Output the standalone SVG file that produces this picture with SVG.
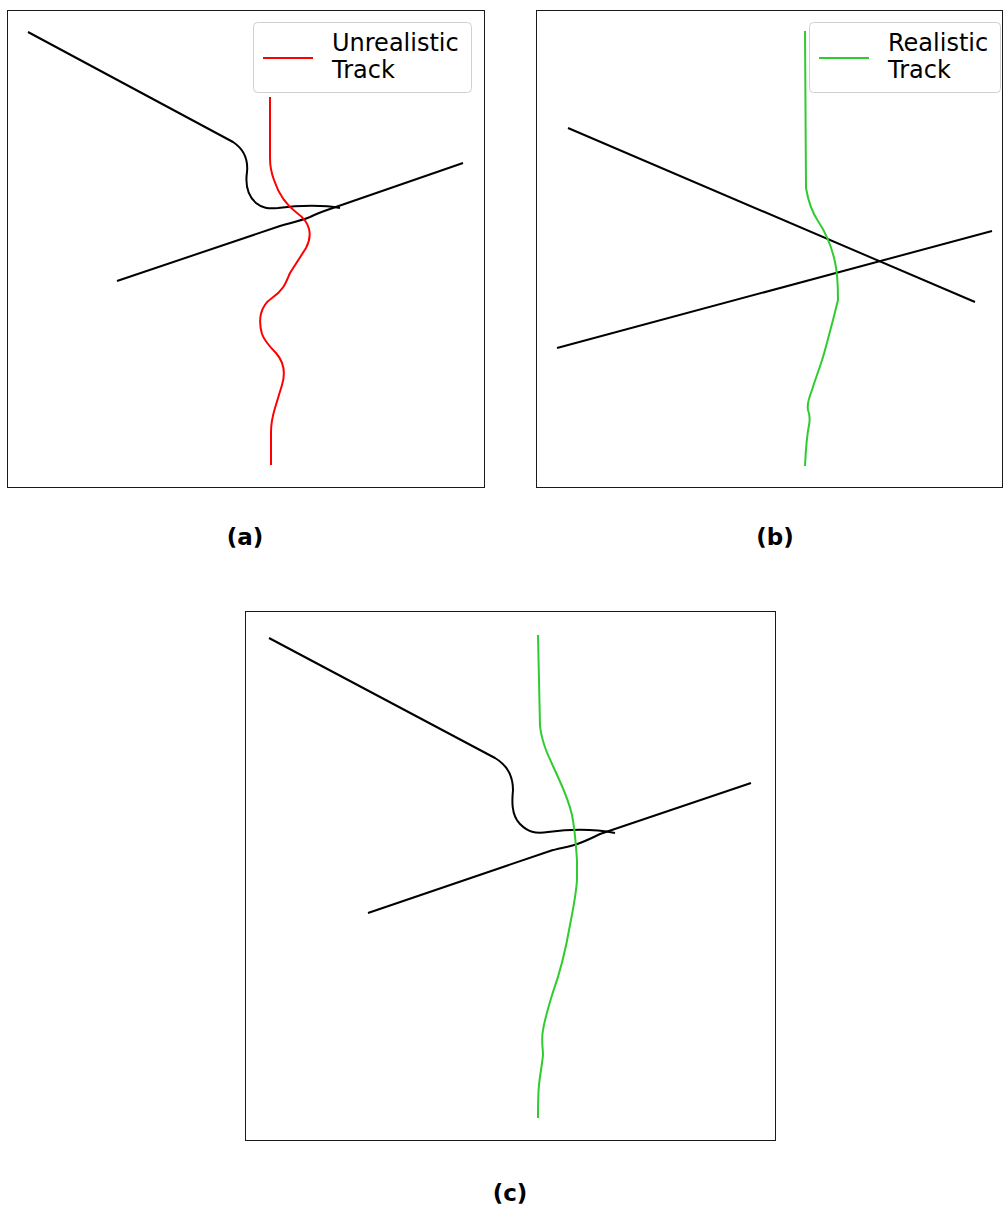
<svg xmlns="http://www.w3.org/2000/svg" width="1003" height="1212" viewBox="0 0 1003 1212">
<style>
.frame{fill:none;stroke:#1a1a1a;stroke-width:1}
.blk{fill:none;stroke:#000;stroke-width:2;stroke-linejoin:round;stroke-linecap:butt}
.red{fill:none;stroke:#ff0000;stroke-width:2;stroke-linejoin:round}
.grn{fill:none;stroke:#2fcc2f;stroke-width:2;stroke-linejoin:round}
.leg{fill:#fff;stroke:#d0d0d0;stroke-width:1}
.lt{font-family:"DejaVu Sans",sans-serif;font-size:24px;fill:#000}
.cap{font-family:"DejaVu Sans",sans-serif;font-size:23px;font-weight:bold;fill:#000;text-anchor:middle}
</style>
<rect width="1003" height="1212" fill="#fff"/>
<g id="panel-a">
<rect class="frame" x="7.5" y="10.5" width="477" height="477"/>
<g id="connectors-a">
<path class="blk" d="M28,32 L233,142 C245,150 248,162 247,172 C245,186 248,196 256,203 C262,208 268,209 278,208 C300,205 325,205 340,208"/>
<path class="blk" d="M117,281 L280,226 C290,223 300,221 310,217 C318,213 324,211 330,209 L463,163"/>
<path class="red" d="M270,97 L270,158 C270,168 271,172 274,180 C279,195 286,205 297,213 C310,222 313,235 306,248 L290,273 C286,282 284,290 272,298 C260,306 258,320 262,334 C265,342 270,347 276,353 C283,361 286,372 282,385 L275,408 C272,418 271,425 271,432 L271,465"/>
</g>
<g id="legend-a">
<rect class="leg" x="253.5" y="22.5" width="218" height="70" rx="4"/>
<line x1="263" y1="58" x2="313" y2="58" stroke="#ff0000" stroke-width="2"/>
<text class="lt" x="332" y="51">Unrealistic</text>
<text class="lt" x="332" y="78">Track</text>
</g>
<text class="cap" x="245" y="545">(a)</text>
</g>
<g id="panel-b">
<rect class="frame" x="536.5" y="10.5" width="466" height="477"/>
<g id="connectors-b">
<path class="blk" d="M568,128 L975,302"/>
<path class="blk" d="M557,348 L992,231"/>
<path class="grn" d="M805,31 L806,188 C808,200 812,212 818,221 C826,233 832,248 835,262 C838,275 838,288 838,300 L833,320 C829,335 826,347 823,357 C819,370 815,380 812,390 C808,400 807,405 808,410 C810,415 810,420 809,425 C807,435 806,445 805,466"/>
</g>
<g id="legend-b">
<rect class="leg" x="809.5" y="22.5" width="191" height="70" rx="4"/>
<line x1="819" y1="58" x2="869" y2="58" stroke="#2fcc2f" stroke-width="2"/>
<text class="lt" x="888" y="51">Realistic</text>
<text class="lt" x="888" y="78">Track</text>
</g>
<text class="cap" x="775" y="545">(b)</text>
</g>
<g id="panel-c">
<rect class="frame" x="245.5" y="611.5" width="530" height="529"/>
<g id="connectors-c">
<path class="blk" d="M269,638 L495,758 C507,765 513,775 513,790 C512,800 511,815 520,824 C528,832 535,834 548,832 C570,829 595,829 615,833"/>
<path class="blk" d="M368,913 L550,851 C560,848 570,847 580,843 C588,840 594,837 600,834 L751,783"/>
<path class="grn" d="M538,635 L540,726 C541,735 543,742 546,750 C550,760 554,768 558,777 C564,790 569,802 572,815 C575,830 576,845 577,860 L577,880 C576,895 573,910 570,925 C566,948 561,970 553,992 C548,1008 545,1018 543,1030 C541,1040 543,1048 543,1055 C542,1065 540,1075 539,1085 C538,1095 538,1105 538,1118"/>
</g>
<text class="cap" x="510" y="1201">(c)</text>
</g>
</svg>
